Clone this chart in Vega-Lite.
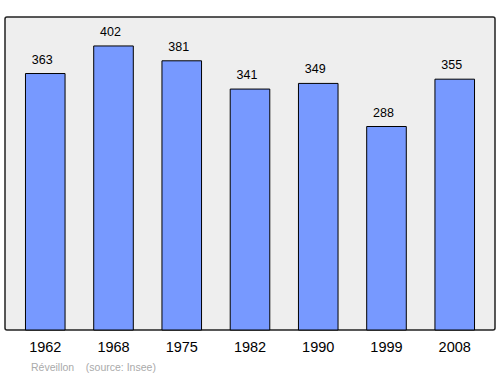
{
  "$schema": "https://vega.github.io/schema/vega-lite/v6.json",
  "width": 490,
  "height": 313,
  "autosize": "none",
  "padding": {"left": 5, "top": 17, "right": 5, "bottom": 44},
  "background": "white",
  "config": {
    "font": "Liberation Sans",
    "view": {"fill": "#eeeeee", "stroke": "#222222", "strokeWidth": 1.5, "cornerRadius": 2}
  },
  "title": {
    "text": "Réveillon\u00a0\u00a0\u00a0\u00a0(source: Insee)",
    "orient": "bottom",
    "anchor": "start",
    "fontSize": 10.5,
    "fontWeight": "normal",
    "color": "#aaaaaa",
    "dx": 26,
    "offset": 9
  },
  "data": {
    "values": [
      {"year": "1962", "pop": 363},
      {"year": "1968", "pop": 402},
      {"year": "1975", "pop": 381},
      {"year": "1982", "pop": 341},
      {"year": "1990", "pop": 349},
      {"year": "1999", "pop": 288},
      {"year": "2008", "pop": 355}
    ]
  },
  "encoding": {
    "x": {
      "field": "year",
      "type": "nominal",
      "sort": null,
      "scale": {"paddingInner": 0.42, "paddingOuter": 0.3},
      "axis": {
        "title": null,
        "labelAngle": 0,
        "ticks": false,
        "domain": false,
        "labelFontSize": 14.5,
        "labelColor": "#000000",
        "labelPadding": 10
      }
    },
    "y": {
      "field": "pop",
      "type": "quantitative",
      "scale": {"domain": [0, 443], "nice": false, "zero": true},
      "axis": null
    }
  },
  "layer": [
    {
      "mark": {"type": "bar", "fill": "#7799ff", "stroke": "#000000", "strokeWidth": 1}
    },
    {
      "mark": {"type": "text", "baseline": "alphabetic", "dy": -10, "dx": -3, "fontSize": 12.5, "color": "#000000"},
      "encoding": {"text": {"field": "pop", "type": "quantitative"}}
    }
  ]
}
